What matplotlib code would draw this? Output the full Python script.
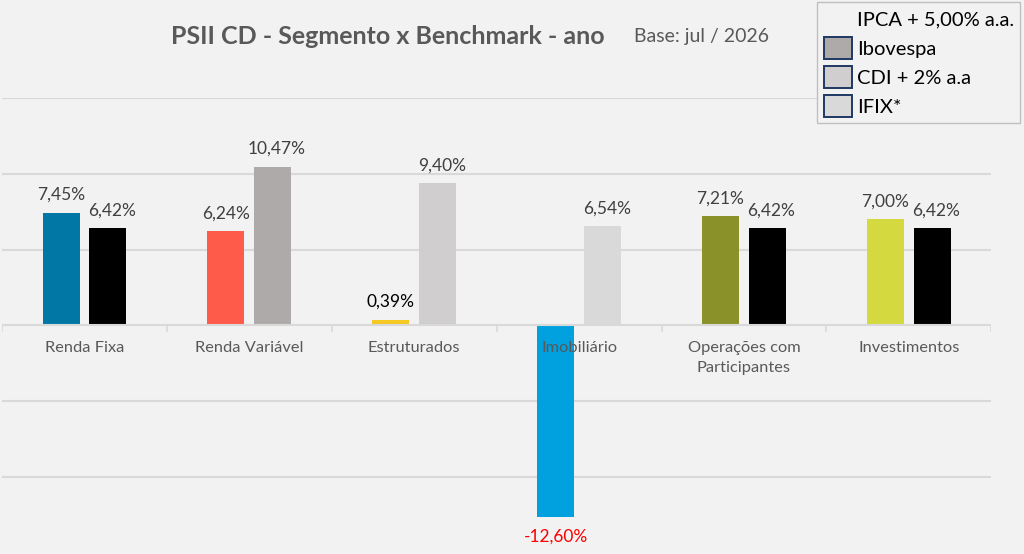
#! /usr/bin/env python3

import numpy as np
import matplotlib.pyplot as plt
from matplotlib.patches import Patch

categories = ['Renda Fixa', 'Renda Variável', 'Estruturados', 'Imobiliário',
              'Operações com\nParticipantes', 'Investimentos']
segment = [7.45, 6.24, 0.39, -12.60, 7.21, 7.00]
benchmark = [6.42, 10.47, 9.40, 6.54, 6.42, 6.42]
segment_colors = ['#0077A4', '#FF5B4B', '#F5C824', '#00A1DE', '#8B9129', '#D5D940']
benchmark_colors = ['#000000', '#AEAAAA', '#D0CECE', '#D9D9D9', '#000000', '#000000']
legend_labels = ['IPCA + 5,00% a.a.', 'Ibovespa', 'CDI + 2% a.a', 'IFIX*']
legend_colors = [None, '#AEAAAA', '#D0CECE', '#D9D9D9']


def fmt(v):
    return '{:.2f}%'.format(v).replace('.', ',')


def main():
    plt.rcParams['font.family'] = ['Lato', 'DejaVu Sans']
    bg = '#F2F2F2'
    fig = plt.figure(figsize=(10.24, 5.54), dpi=100, facecolor=bg)
    ax = fig.add_axes([0.002, 0.002, 0.966, 0.821], facecolor=bg)

    x = np.arange(len(categories))
    w = 0.225
    off = 0.142
    ax.bar(x - off, segment, w, color=segment_colors, zorder=3)
    ax.bar(x + off, benchmark, w, color=benchmark_colors, zorder=3)

    ax.set_xlim(-0.5, len(categories) - 0.5)
    ax.set_ylim(-15, 15)
    for g in [-10, -5, 5, 10, 15]:
        ax.axhline(g, color='#D9D9D9', lw=1.5, zorder=1)
    ax.axhline(0, color='#D9D9D9', lw=1.5, zorder=4)
    for b in np.arange(-0.5, len(categories), 1.0):
        ax.plot([b, b], [0, -0.35], color='#D9D9D9', lw=1.2, zorder=4)

    for s in ax.spines.values():
        s.set_visible(False)
    ax.set_xticks([])
    ax.set_yticks([])

    for i, c in enumerate(categories):
        ax.annotate(c, (x[i], 0), xytext=(0, -11), textcoords='offset points',
                    ha='center', va='top', fontsize=11.8, color='#595959',
                    linespacing=1.55, zorder=5)

    for i, v in enumerate(segment):
        if v < 0:
            ax.annotate(fmt(v), (x[i] - off, v), xytext=(0, -9),
                        textcoords='offset points', ha='center', va='top',
                        fontsize=12.5, color='#FF0000')
        else:
            col = '#000000' if v < 1 else '#404040'
            ax.annotate(fmt(v), (x[i] - off, v), xytext=(0, 7),
                        textcoords='offset points', ha='center', va='bottom',
                        fontsize=12.5, color=col)
    for i, v in enumerate(benchmark):
        ax.annotate(fmt(v), (x[i] + off, v), xytext=(3, 7),
                    textcoords='offset points', ha='center', va='bottom',
                    fontsize=12.5, color='#404040')

    fig.text(0.379, 0.935, 'PSII CD - Segmento x Benchmark - ano',
             ha='center', va='center', fontsize=18, fontweight='bold',
             color='#595959')
    fig.text(0.619, 0.935, 'Base: jul / 2026', ha='left', va='center',
             fontsize=14, color='#595959')

    handles = []
    for c in legend_colors:
        if c is None:
            handles.append(Patch(facecolor='none', edgecolor='none'))
        else:
            handles.append(Patch(facecolor=c, edgecolor='#1F3864', lw=1.4))
    leg = fig.legend(handles, legend_labels, loc='upper right',
                     bbox_to_anchor=(0.996, 0.997), borderaxespad=0,
                     fontsize=14.5, handlelength=1.4, handleheight=1.3,
                     handletextpad=0.25, labelspacing=0.36, borderpad=0.3,
                     fancybox=False, framealpha=1, facecolor=bg,
                     edgecolor='#BFBFBF')
    for t in leg.get_texts():
        t.set_color('#000000')

    fig.savefig('out.png', dpi=100, facecolor=bg)


if __name__ == '__main__':
    main()
